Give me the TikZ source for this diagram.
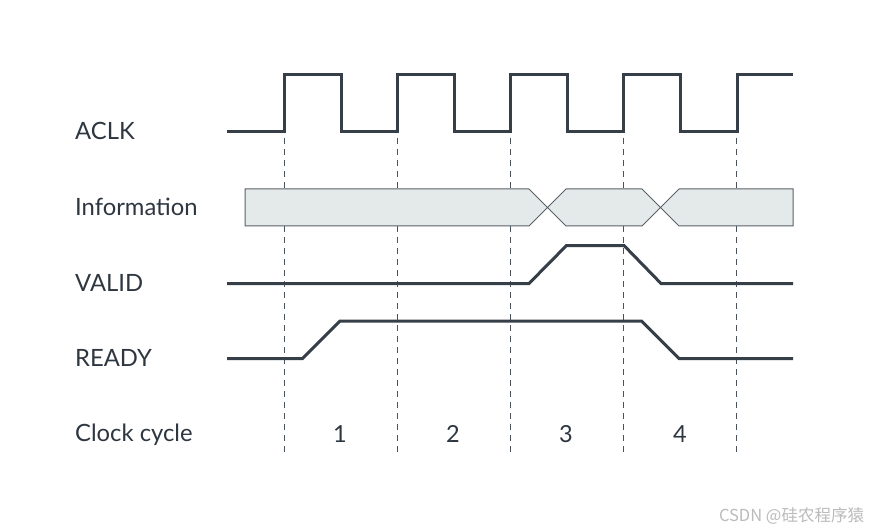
\documentclass[tikz,border=0pt]{standalone}
\usepackage{fontspec}
\setmainfont{Lato}
\newfontfamily\cjkfont{Noto Sans CJK SC}
\definecolor{wave}{HTML}{363E48}
\definecolor{dashc}{HTML}{4A525C}
\definecolor{busfill}{HTML}{E4E9E9}
\definecolor{busline}{HTML}{5A6169}
\definecolor{txt}{HTML}{2E3640}
\definecolor{wm}{HTML}{BBBBBB}
\tikzset{
  sig/.style={draw=wave, line width=3pt, line join=miter},
  cyc/.style={draw=dashc, line width=1pt, dash pattern=on 6pt off 5pt},
  bus/.style={draw=busline, fill=busfill, line width=1pt, line join=miter},
  lbl/.style={inner sep=0pt, anchor=base west, text=txt, font=\fontsize{23.8}{27}\selectfont},
  num/.style={inner sep=0pt, anchor=base, text=txt, font=\fontsize{23.5}{27}\selectfont},
}
\begin{document}
\begin{tikzpicture}[x=1pt,y=-1pt]
\useasboundingbox[fill=white] (0,0) rectangle (869,529);
% labels
\node[lbl] (aclk) at (75,140) {ACLK};
\node[lbl] (info) at (75,215) {Information};
\node[lbl] (valid) at (75,291.5) {VALID};
\node[lbl] (ready) at (75,366.5) {READY};
\node[lbl] (cc) at (75,441.5) {Clock cycle};
% cycle boundaries
\foreach \x/\n in {284/d0,397/d1,510/d2,623/d3,736/d4}{
  \coordinate (\n t) at (\x,138);
  \coordinate (\n b) at (\x,452);
  \draw[cyc] (\n t) -- (\n b);
}
% cycle numbers
\node[num] (c1) at (340,442.5) {1};
\node[num] (c2) at (453,442.5) {2};
\node[num] (c3) at (566,442.5) {3};
\node[num] (c4) at (680,442.5) {4};
% information bus
\draw[bus] (245,189) -- (529,189) -- (547.5,207.5) -- (529,226) -- (245,226) -- cycle;
\draw[bus] (547.5,207.5) -- (566,189) -- (642,189) -- (660.5,207.5) -- (642,226) -- (566,226) -- cycle;
\draw[bus] (660.5,207.5) -- (679,189) -- (793,189) -- (793,226) -- (679,226) -- cycle;
% ACLK
\draw[sig] (227,131.5) -- (284,131.5) -- (284,75) -- (341,75) -- (341,131.5) -- (397,131.5) -- (397,75)
  -- (454,75) -- (454,131.5) -- (510,131.5) -- (510,75) -- (567,75) -- (567,131.5) -- (623,131.5)
  -- (623,75) -- (680,75) -- (680,131.5) -- (737,131.5) -- (737,75) -- (793,75);
% VALID
\draw[sig] (227,283.5) -- (529,283.5) -- (566.5,245.5) -- (624,245.5) -- (661,283.5) -- (793,283.5);
% READY
\draw[sig] (227,358.5) -- (302.5,358.5) -- (340,321) -- (641.5,321) -- (679,358.5) -- (793,358.5);
% watermark
\node[inner sep=0pt, anchor=base, text=wm, font=\cjkfont\fontsize{16.5}{18}\selectfont] (wmk) at (791.5,521) {CSDN @硅农程序猿};
\end{tikzpicture}
\end{document}
